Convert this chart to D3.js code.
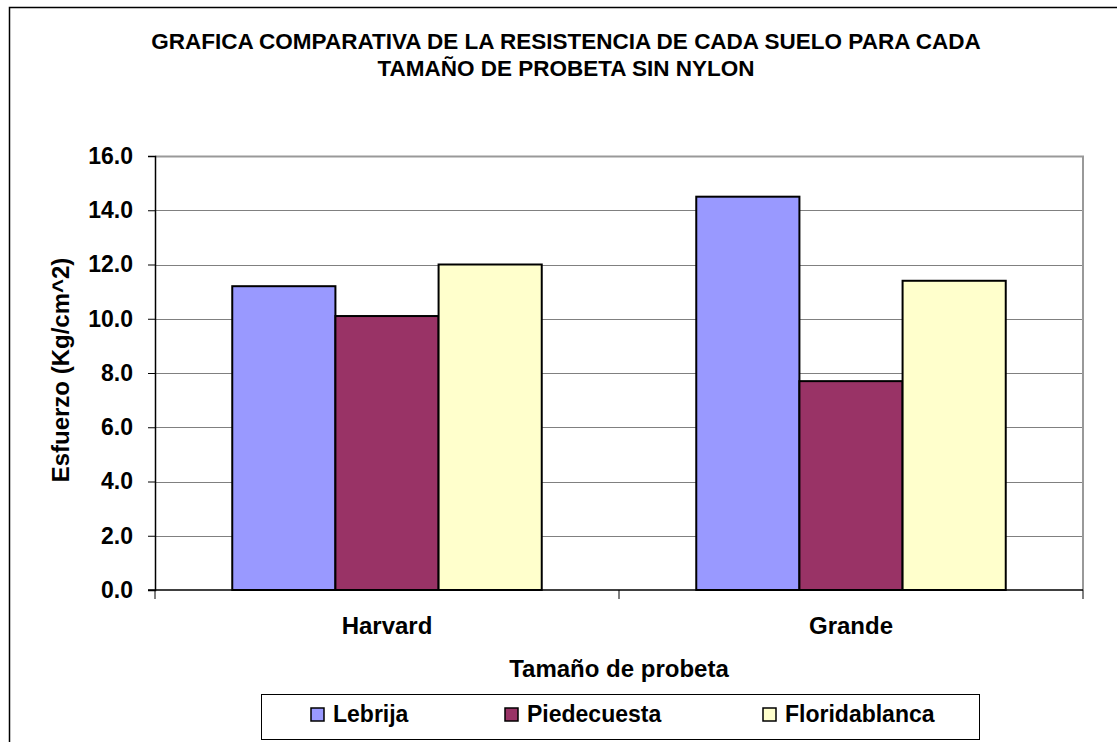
<!DOCTYPE html>
<html>
<head>
<meta charset="utf-8">
<script src="https://cdn.jsdelivr.net/npm/d3@7"></script>
<style>
  body { margin: 0; background: #fff; }
  text { font-family: "Liberation Sans", Arial, sans-serif; font-weight: bold; fill: #000; }
</style>
</head>
<body>
<div id="chart"></div>
<script>
// data
var categories = ["Harvard", "Grande"];
var series = ["Lebrija", "Piedecuesta", "Floridablanca"];
var lebrija = [11.2, 14.5];
var piedecuesta = [10.1, 7.7];
var floridablanca = [12.0, 11.4];
var yTicks = [0, 2, 4, 6, 8, 10, 12, 14, 16];
var colors = ["#9999FF", "#993366", "#FFFFCC"];

var values = [lebrija, piedecuesta, floridablanca];
var rows = [];
categories.forEach(function (c, i) {
    series.forEach(function (s, j) {
        rows.push({ cat: c, ser: s, value: values[j][i] });
    });
});

var width = 1117, height = 742;
var margin = { top: 156, right: 34, bottom: 152, left: 155 };
var pw = width - margin.left - margin.right,
    ph = height - margin.top - margin.bottom;

var svg = d3.select("#chart")
    .append("svg")
    .attr("width", width)
    .attr("height", height);

// outer chart frame
svg.append("rect")
    .attr("x", 9.5).attr("y", 7.5)
    .attr("width", width + 20).attr("height", height + 20)
    .attr("fill", "none")
    .attr("stroke", "#000")
    .attr("stroke-width", 1.5);

// title
var title = svg.append("text")
    .attr("text-anchor", "middle")
    .style("font-size", "22.5px");
title.append("tspan").attr("x", 566).attr("y", 49)
    .text("GRAFICA COMPARATIVA DE LA RESISTENCIA DE CADA SUELO PARA CADA");
title.append("tspan").attr("x", 566).attr("y", 76)
    .text("TAMAÑO DE PROBETA SIN NYLON");

var g = svg.append("g")
    .attr("transform", "translate(" + margin.left + "," + margin.top + ")");

var x0 = d3.scaleBand()
    .domain(categories)
    .range([0, pw]);

var gap = x0.bandwidth() * 0.333;
var x1 = d3.scaleBand()
    .domain(series)
    .range([gap / 2, x0.bandwidth() - gap / 2]);

var y = d3.scaleLinear()
    .domain([0, 16])
    .range([ph, 0]);

var color = d3.scaleOrdinal()
    .domain(series)
    .range(colors);

// gridlines
g.append("g")
    .selectAll("line")
    .data(yTicks.filter(function (d) { return d > 0; }))
    .enter()
    .append("line")
    .attr("x1", 0).attr("x2", pw)
    .attr("y1", function (d) { return Math.round(y(d)) + 0.5; })
    .attr("y2", function (d) { return Math.round(y(d)) + 0.5; })
    .attr("stroke", "#808080")
    .attr("stroke-width", 1);

// plot area border (top and right)
g.append("path")
    .attr("d", "M0,0.5H" + pw + "V" + ph)
    .attr("fill", "none")
    .attr("stroke", "#999")
    .attr("stroke-width", 2);

// bars
g.selectAll(".bar")
    .data(rows)
    .enter()
    .append("rect")
    .attr("class", "bar")
    .attr("x", function (d) { return x0(d.cat) + x1(d.ser); })
    .attr("y", function (d) { return y(d.value); })
    .attr("width", x1.bandwidth())
    .attr("height", function (d) { return ph - y(d.value); })
    .attr("fill", function (d) { return color(d.ser); })
    .attr("stroke", "#000")
    .attr("stroke-width", 2);

// y axis
var yAxis = g.append("g")
    .call(d3.axisLeft(y).tickValues(yTicks).tickFormat(d3.format(".1f")).tickSize(7).tickPadding(15));
yAxis.select(".domain").attr("stroke", "#000").attr("stroke-width", 1.5);
yAxis.selectAll(".tick line").attr("stroke", "#000");
yAxis.selectAll("text").style("font-size", "23px").style("font-family", "'Liberation Sans', Arial, sans-serif");

// x axis
var xAxis = g.append("g")
    .attr("transform", "translate(0," + ph + ")");
xAxis.append("line")
    .attr("x1", -7).attr("x2", pw)
    .attr("stroke", "#000").attr("stroke-width", 1.5);
xAxis.selectAll(".sep")
    .data(d3.range(categories.length + 1))
    .enter()
    .append("line")
    .attr("x1", function (i) { return i * x0.step(); })
    .attr("x2", function (i) { return i * x0.step(); })
    .attr("y1", 0).attr("y2", 9)
    .attr("stroke", "#000");
xAxis.selectAll(".lbl")
    .data(categories)
    .enter()
    .append("text")
    .attr("x", function (d) { return x0(d) + x0.bandwidth() / 2; })
    .attr("y", 44)
    .attr("text-anchor", "middle")
    .style("font-size", "24px")
    .text(function (d) { return d; });

// axis titles
svg.append("text")
    .attr("x", margin.left + pw / 2)
    .attr("y", 677)
    .attr("text-anchor", "middle")
    .style("font-size", "24px")
    .text("Tamaño de probeta");

svg.append("text")
    .attr("transform", "translate(69," + (margin.top + ph / 2 - 3) + ") rotate(-90)")
    .attr("text-anchor", "middle")
    .style("font-size", "24px")
    .text("Esfuerzo (Kg/cm^2)");

// legend
var legend = svg.append("g");
legend.append("rect")
    .attr("x", 261.5).attr("y", 694.5)
    .attr("width", 718).attr("height", 45)
    .attr("fill", "#fff")
    .attr("stroke", "#000")
    .attr("stroke-width", 1);

var legendX = [311, 505, 763];
var items = legend.selectAll(".item")
    .data(series)
    .enter()
    .append("g")
    .attr("transform", function (d, i) { return "translate(" + legendX[i] + ",708)"; });
items.append("rect")
    .attr("width", 13).attr("height", 13)
    .attr("fill", function (d) { return color(d); })
    .attr("stroke", "#000")
    .attr("stroke-width", 1.5);
items.append("text")
    .attr("x", 22)
    .attr("y", 14)
    .style("font-size", "23px")
    .text(function (d) { return d; });
</script>
</body>
</html>
